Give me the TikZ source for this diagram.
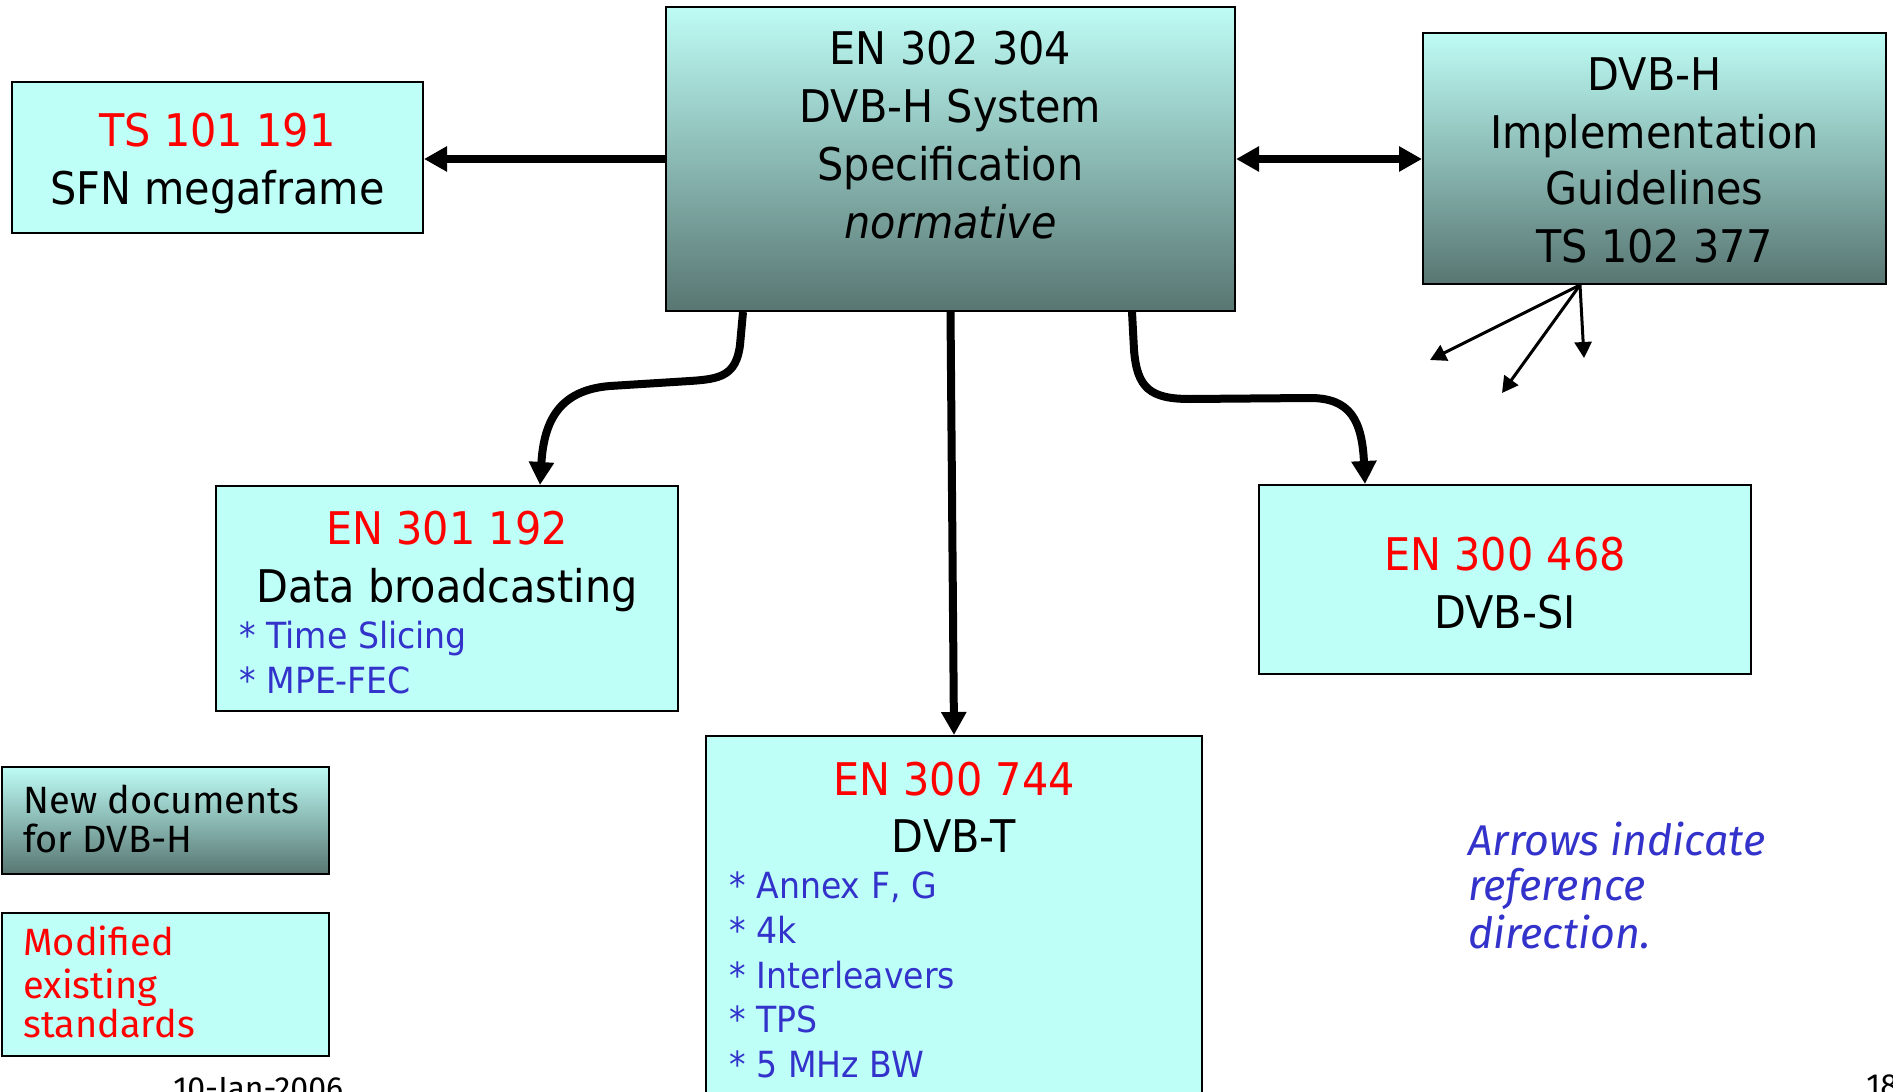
\documentclass[tikz,border=0pt]{standalone}
\usepackage{fontspec}
\setmainfont{DejaVu Sans}[FakeStretch=0.92]
\newfontfamily\legendfont{Fira Sans}
\usetikzlibrary{arrows.meta,calc}

\definecolor{boxcyan}{RGB}{190,255,247}
\definecolor{gradtop}{RGB}{190,252,245}
\definecolor{gradbot}{RGB}{88,118,114}
\definecolor{specred}{RGB}{255,0,0}
\definecolor{itemblue}{RGB}{51,51,204}

\tikzset{
  doc/.style={draw=black, line width=1pt, fill=boxcyan, inner sep=0pt},
  newdoc/.style={draw=black, line width=1pt, top color=gradtop, bottom color=gradbot, inner sep=0pt},
  ln/.style={anchor=base, inner sep=0pt, font=\fontsize{22.5}{27}\selectfont},
  item/.style={anchor=base west, inner sep=0pt, text=itemblue, font=\fontsize{18}{22}\selectfont},
  legend/.style={anchor=base west, inner sep=0pt, font=\legendfont\fontsize{19}{23}\selectfont},
  note/.style={anchor=base west, inner sep=0pt, text=itemblue, font=\legendfont\itshape\fontsize{21.5}{26}\selectfont},
  foot/.style={anchor=base west, inner sep=0pt, font=\legendfont\fontsize{16}{19}\selectfont},
  ref/.style={line width=4pt, -{Triangle[length=11.5pt,width=12pt]}},
  bothref/.style={line width=4pt, {Triangle[length=11.5pt,width=12pt]}-{Triangle[length=11.5pt,width=12pt]}},
  hint/.style={line width=1.5pt, -{Triangle[length=8pt,width=8.5pt]}},
}

\begin{document}
\begin{tikzpicture}[x=0.5pt, y=-0.5pt]
  \useasboundingbox (0,0) rectangle (1893,1091);
  \clip (0,0) rectangle (1893,1091);
  \fill[white] (0,0) rectangle (1893,1091);

  % document boxes
  \node[newdoc, minimum width=284.5pt, minimum height=152pt] (core) at (950.5,159) {};
  \node[doc, minimum width=205.5pt, minimum height=75.5pt] (sfn) at (217.5,157.5) {};
  \node[newdoc, minimum width=231.5pt, minimum height=125.5pt] (impl) at (1654.5,158.5) {};
  \node[doc, minimum width=231pt, minimum height=112.5pt] (b301) at (447,598.5) {};
  \node[doc, minimum width=246pt, minimum height=94.5pt] (b468) at (1505,579.5) {};
  \node[doc, minimum width=248pt, minimum height=182pt] (b744) at (954,918) {};

  % legend boxes
  \node[newdoc, minimum width=163.5pt, minimum height=53.5pt] (keynew) at (165.5,820.5) {};
  \node[doc, minimum width=163.5pt, minimum height=71.5pt] (keymod) at (165.5,984.5) {};

  % EN 302 304
  \node[ln] (core1) at (950.5,65) {EN 302 304};
  \node[ln] (core2) at (950.5,123) {DVB-H System};
  \node[ln] (core3) at (950.5,181) {Specification};
  \node[ln, font=\fontsize{22.5}{27}\selectfont\itshape] (core4) at (950.5,238) {normative};

  % TS 101 191
  \node[ln, text=specred] (sfn1) at (217.5,147) {TS 101 191};
  \node[ln] (sfn2) at (217.5,205) {SFN megaframe};

  % TS 102 377
  \node[ln] (impl1) at (1654.5,90.5) {DVB-H};
  \node[ln] (impl2) at (1654.5,148.5) {Implementation};
  \node[ln] (impl3) at (1654.5,205) {Guidelines};
  \node[ln] (impl4) at (1654.5,263) {TS 102 377};

  % EN 301 192
  \node[ln, text=specred] (b301a) at (447,544.5) {EN 301 192};
  \node[ln] (b301b) at (447,602) {Data broadcasting};
  \node[item] (b301c) at (239,648) {* Time Slicing};
  \node[item] (b301d) at (239,693) {* MPE-FEC};

  % EN 300 468
  \node[ln, text=specred] (b468a) at (1505,570) {EN 300 468};
  \node[ln] (b468b) at (1505,628) {DVB-SI};

  % EN 300 744
  \node[ln, text=specred] (b744a) at (954,795) {EN 300 744};
  \node[ln] (b744b) at (954,852) {DVB-T};
  \node[item] (b744c) at (729,898) {* Annex F, G};
  \node[item] (b744d) at (729,943) {* 4k};
  \node[item] (b744e) at (729,988) {* Interleavers};
  \node[item] (b744f) at (729,1032) {* TPS};
  \node[item] (b744g) at (729,1077) {* 5 MHz BW};

  % legend texts
  \node[legend] (keynew1) at (23,813) {New documents};
  \node[legend] (keynew2) at (23,852) {for DVB-H};
  \node[legend, text=specred] (keymod1) at (23,955) {Modified};
  \node[legend, text=specred] (keymod2) at (23,998) {existing};
  \node[legend, text=specred] (keymod3) at (23,1037) {standards};

  % remark
  \node[note] (note1) at (1468,855) {Arrows indicate};
  \node[note] (note2) at (1468,900) {reference};
  \node[note] (note3) at (1468,948) {direction.};

  % footer
  \node[foot] (date) at (173,1099) {10-Jan-2006};
  \node[foot] (page) at (1866,1096) {18};

  % reference arrows
  \draw[ref] (core.west) -- (core.west -| sfn.east);
  \draw[bothref] (core.east) -- (core.east -| impl.west);
  \draw[ref] (core.south) -- (b744.north);
  \draw[ref] ($(core.south)+(-207.5,0)$) -- (740,345)
    .. controls (736,376) and (720,379) .. (690,381) -- (610,386)
    .. controls (560,390) and (544,420) .. ($(b301.north)+(93,0)$);
  \draw[ref] ($(core.south)+(181.5,0)$) -- (1134,350)
    .. controls (1137,388) and (1150,399) .. (1190,399) -- (1310,398)
    .. controls (1350,398) and (1362,420) .. ($(b468.north)+(-140,0)$);

  % further references from the guidelines
  \coordinate (hub) at ($(impl.south)+(-74.5,0)$);
  \coordinate (h1) at (1430,360);
  \coordinate (h2) at (1502,393);
  \coordinate (h3) at (1584,358);
  \draw[hint] (hub) -- (h1);
  \draw[hint] (hub) -- (h2);
  \draw[hint] (hub) -- (h3);
\end{tikzpicture}
\end{document}
